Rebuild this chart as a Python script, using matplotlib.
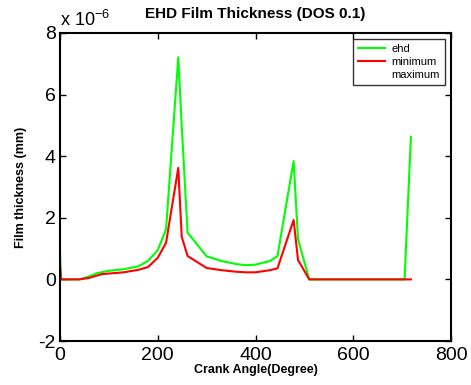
import numpy as np
import matplotlib
matplotlib.use("Agg")
import matplotlib.pyplot as plt

plt.rcParams["font.family"] = ["Liberation Sans", "DejaVu Sans"]
plt.rcParams["mathtext.fontset"] = "custom"
plt.rcParams["mathtext.rm"] = "Liberation Sans"
plt.rcParams["mathtext.it"] = "Liberation Sans"
plt.rcParams["axes.unicode_minus"] = False

## data (film thickness in units of 1e-6 mm) ##
crank_angle = [0, 2, 40, 60, 75, 85, 100, 130, 160, 180, 200, 217, 242, 249,
               261, 300, 330, 360, 380, 400, 430, 445, 478, 487, 510, 705, 718]
ehd = [0.9, 0, 0, 0.1, 0.2, 0.23, 0.28, 0.33, 0.42, 0.6, 0.95, 1.63, 7.21, 5.0,
       1.52, 0.75, 0.6, 0.5, 0.46, 0.48, 0.6, 0.76, 3.84, 1.3, 0, 0, 4.63]
minimum = [0.45, 0, 0, 0.05, 0.12, 0.17, 0.19, 0.23, 0.31, 0.4, 0.7, 1.19, 3.62, 1.39,
           0.76, 0.37, 0.3, 0.25, 0.23, 0.23, 0.3, 0.36, 1.93, 0.63, 0, 0, 0]
maximum = []

fig = plt.figure(figsize=(4.71, 3.85), dpi=100)
ax = fig.add_axes([60 / 471, 44 / 385, 391 / 471, 308 / 385])

ax.plot(crank_angle, ehd, color="#00ff00", lw=1.5, label="ehd")
ax.plot(crank_angle, minimum, color="#ff0000", lw=1.5, label="minimum")
ax.plot(maximum, maximum, color="#0000ff", lw=1.5, linestyle="none", label="maximum")

ax.set_xlim(0, 800)
ax.set_ylim(-2, 8)
ax.set_xticks([0, 200, 400, 600, 800])
ax.set_yticks([-2, 0, 2, 4, 6, 8])
ax.tick_params(direction="in", top=True, right=True, labelsize=14, length=4, width=1)
ax.tick_params(axis="x", pad=4)
ax.tick_params(axis="y", pad=3)
for s in ax.spines.values():
    s.set_linewidth(1.5)

ax.text(0.0, 1.01, "x 10$^{-6}$", transform=ax.transAxes, fontsize=13,
        ha="left", va="bottom")
ax.set_title("EHD Film Thickness (DOS 0.1)", fontsize=11, fontweight="bold", pad=11)
ax.set_xlabel("Crank Angle(Degree)", fontsize=9, fontweight="bold", labelpad=0)
ax.set_ylabel("Film thickness (mm)", fontsize=9, fontweight="bold", labelpad=8)

leg = ax.legend(loc="upper right", fontsize=8, frameon=True, fancybox=False,
                edgecolor="black", handlelength=2.4, handletextpad=0.6,
                borderaxespad=0.5, labelspacing=0.25, borderpad=0.5)
leg.get_frame().set_linewidth(1)

plt.savefig("out.png", dpi=100)
